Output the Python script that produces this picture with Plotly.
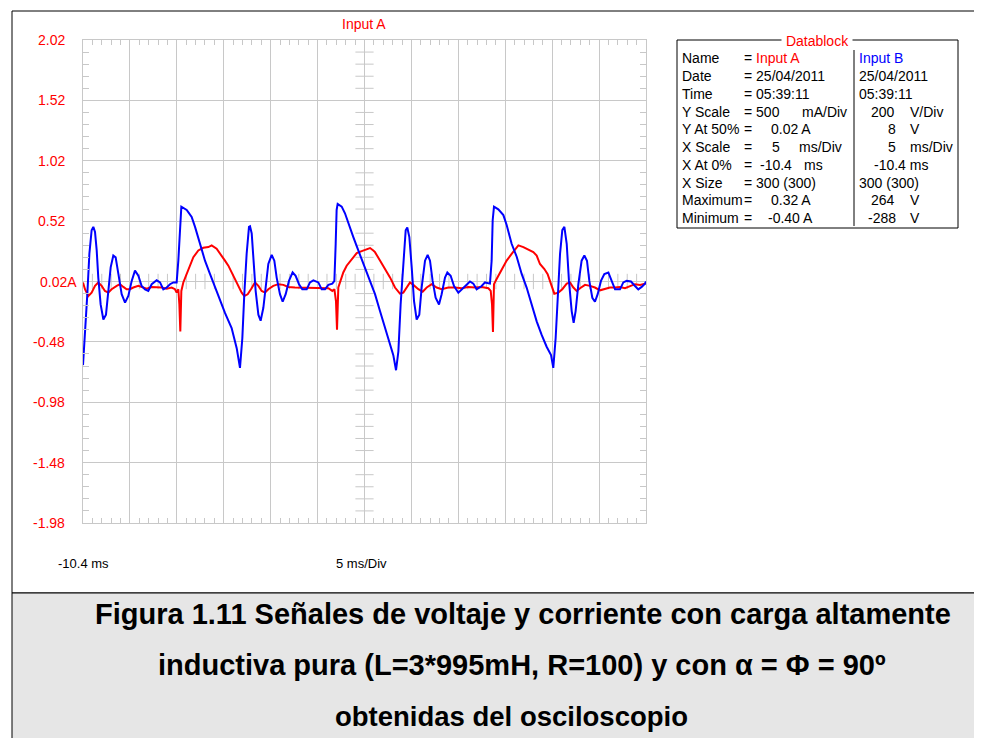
import plotly.graph_objects as go

# Input B (voltage): time in ms, value in V
blue_t = [-10.40, -10.19, -9.94, -9.72, -9.48, -9.30, -9.12, -8.94, -8.77, -8.52,
          -8.23, -7.95, -7.70, -7.45, -7.17, -6.92, -6.63, -6.28, -5.92, -5.57,
          -5.21, -4.86, -4.50, -4.15, -3.79, -3.44, -3.08, -2.55, -2.19, -1.84,
          -1.48, -1.13, -0.77, -0.42, -0.24, -0.06, 0.08, 0.65, 1.18, 1.54,
          2.07, 2.60, 3.13, 3.67, 4.20, 4.73, 5.44, 5.98, 6.33, 6.58,
          6.79, 7.04, 7.29, 7.40, 7.58, 7.79, 8.00, 8.29, 8.53, 8.82,
          9.07, 9.35, 9.71, 9.99, 10.24, 10.59, 10.88, 11.20, 11.55, 11.94,
          12.26, 12.62, 12.97, 13.44, 13.79, 14.15, 14.68, 15.04, 15.39, 15.75,
          16.17, 16.39, 16.53, 16.63, 16.74, 17.17, 17.52, 17.88, 18.41, 18.94,
          19.48, 20.01, 20.19, 20.72, 21.25, 21.78, 22.32, 22.67, 22.96, 23.21,
          23.45, 23.74, 23.99, 24.16, 24.38, 24.63, 24.88, 25.16, 25.44, 25.69,
          26.05, 26.33, 26.58, 26.86, 27.18, 27.54, 27.82, 28.18, 28.43, 28.78,
          29.14, 29.60, 29.95, 30.49, 30.84, 31.20, 31.55, 32.09, 32.44, 32.97,
          33.15, 33.26, 33.40, 33.86, 34.40, 34.75, 35.28, 35.82, 36.35, 36.88,
          37.42, 37.95, 38.48, 39.01, 39.48, 39.72, 39.97, 40.19, 40.44, 40.68,
          40.90, 41.15, 41.39, 41.68, 41.89, 42.10, 42.39, 42.74, 43.03, 43.31,
          43.56, 43.88, 44.16, 44.45, 44.80, 45.16, 45.59, 45.94, 46.30, 46.83,
          47.18, 47.54, 48.00, 48.43, 48.78, 49.14, 49.49, 49.60]
blue_v = [-269, -169, -34, 100, 178, 189, 172, 111, 21, -68,
          -118, -102, -23, 55, 94, 88, 33, -34, -62, -40,
          10, 44, 27, -7, -18, -23, -1, 12, 5, -18,
          -12, -1, 5, 5, 77, 189, 256, 245, 222, 189,
          133, 77, 33, -12, -57, -96, -146, -213, -278, -180,
          -34, 100, 189, 191, 167, 77, -23, -102, -122, -79,
          -1, 66, 96, 77, 21, -34, -59, -34, 10, 38,
          27, -1, -18, -18, 5, 12, 5, -18, -18, -3,
          1, 10, 133, 245, 265, 256, 234, 200, 155, 111,
          66, 21, 8, -34, -90, -146, -202, -236, -286, -224,
          -68, 77, 178, 187, 155, 55, -57, -118, -102, -12,
          77, 96, 77, 10, -46, -68, -34, 21, 38, 27,
          -7, -29, -18, -1, 8, 1, -18, -7, 5, 1,
          77, 211, 256, 247, 228, 195, 133, 90, 33, -12,
          -68, -124, -169, -208, -236, -278, -180, -46, 100, 178,
          189, 133, 10, -90, -129, -90, -1, 77, 94, 77,
          10, -46, -59, -34, 10, 33, 38, 10, -18, -18,
          5, 10, 8, -7, -18, -10, 1, 8]

# Input A (current): time in ms, value in A
red_t = [-10.40, -10.19, -9.83, -9.48, -9.12, -8.77, -8.41, -8.06, -7.70, -7.35,
         -6.81, -6.46, -6.10, -5.75, -5.39, -5.04, -4.50, -4.15, -3.62, -3.08,
         -2.55, -2.02, -1.48, -0.95, -0.60, -0.42, -0.24, -0.13, -0.03, 0.08,
         0.29, 0.65, 1.00, 1.36, 1.89, 2.42, 2.96, 3.31, 3.84, 4.38,
         4.73, 5.09, 5.44, 5.80, 6.15, 6.51, 6.79, 7.15, 7.50, 7.93,
         8.29, 8.64, 9.00, 9.35, 9.88, 10.42, 10.95, 11.48, 12.19, 12.90,
         13.61, 14.32, 15.04, 15.75, 16.17, 16.39, 16.56, 16.67, 16.81, 16.99,
         17.34, 17.70, 18.23, 18.77, 19.30, 19.83, 20.19, 20.54, 20.72, 21.25,
         21.78, 22.32, 22.85, 23.38, 23.74, 24.09, 24.45, 24.80, 25.34, 25.80,
         26.23, 26.76, 27.29, 27.82, 28.53, 29.24, 29.95, 30.66, 31.38, 32.09,
         32.80, 33.05, 33.19, 33.29, 33.40, 33.68, 34.22, 34.75, 35.28, 35.82,
         36.00, 36.53, 37.06, 37.59, 37.95, 38.30, 38.77, 39.12, 39.48, 39.83,
         40.26, 40.68, 41.15, 41.50, 41.86, 42.21, 42.57, 43.10, 43.63, 44.16,
         44.70, 45.23, 45.76, 46.30, 46.83, 47.36, 47.89, 48.43, 48.96, 49.60]
red_a = [0.012, -0.044, -0.100, -0.072, -0.016, 0.012, -0.016, -0.058, -0.072, -0.044,
         -0.016, -0.002, -0.025, -0.044, -0.044, -0.030, -0.016, -0.025, -0.039, -0.025,
         -0.025, -0.030, -0.039, -0.030, -0.044, -0.072, -0.044, -0.170, -0.393, -0.058,
         0.012, 0.081, 0.151, 0.221, 0.277, 0.299, 0.305, 0.319, 0.291, 0.235,
         0.193, 0.151, 0.095, 0.040, -0.016, -0.072, -0.100, -0.086, -0.044, 0.012,
         -0.016, -0.058, -0.072, -0.044, -0.016, -0.002, -0.008, -0.025, -0.030, -0.030,
         -0.036, -0.030, -0.036, -0.036, -0.058, -0.044, -0.142, -0.379, -0.030, 0.020,
         0.095, 0.151, 0.207, 0.255, 0.271, 0.283, 0.297, 0.277, 0.263, 0.193,
         0.123, 0.054, -0.030, -0.081, -0.072, -0.030, 0.012, -0.008, -0.044, -0.064,
         -0.030, -0.002, -0.030, -0.044, -0.030, -0.030, -0.036, -0.025, -0.030, -0.025,
         -0.036, -0.058, -0.170, -0.399, -0.002, 0.040, 0.123, 0.193, 0.249, 0.305,
         0.319, 0.305, 0.283, 0.263, 0.235, 0.165, 0.123, 0.081, -0.002, -0.081,
         -0.072, -0.044, 0.003, 0.012, -0.030, -0.058, -0.036, -0.008, -0.016, -0.030,
         -0.053, -0.044, -0.030, -0.030, -0.025, -0.036, -0.016, -0.002, -0.008, 0.003]

# scope settings
x_start, ms_per_div, x_divs = -10.4, 5, 12
a_center, a_per_div = 0.02, 0.5
v_center, v_per_div = 8, 200
y_divs = 8
trigger_time = 0.0
y_labels = ["2.02", "1.52", "1.02", "0.52", "0.02A", "-0.48", "-0.98", "-1.48", "-1.98"]

datablock = [
    [(681, "Name", "black"), (743, "= <span style='color:#ff0000'>Input A</span>", "black"), (858, "Input B", "#0000ff")],
    [(681, "Date", "black"), (743, "= 25/04/2011", "black"), (858, "25/04/2011", "black")],
    [(681, "Time", "black"), (743, "= 05:39:11", "black"), (858, "05:39:11", "black")],
    [(681, "Y Scale", "black"), (743, "= 500", "black"), (801, "mA/Div", "black"), (870, "200", "black"), (909, "V/Div", "black")],
    [(681, "Y At 50%", "black"), (743, "=", "black"), (770, "0.02 A", "black"), (887, "8", "black"), (909, "V", "black")],
    [(681, "X Scale", "black"), (743, "=", "black"), (771, "5", "black"), (798, "ms/Div", "black"), (887, "5", "black"), (909, "ms/Div", "black")],
    [(681, "X At 0%", "black"), (743, "=", "black"), (759, "-10.4", "black"), (803, "ms", "black"), (873, "-10.4 ms", "black")],
    [(681, "X Size", "black"), (743, "= 300 (300)", "black"), (858, "300 (300)", "black")],
    [(681, "Maximum", "black"), (743, "=", "black"), (770, "0.32 A", "black"), (870, "264", "black"), (909, "V", "black")],
    [(681, "Minimum", "black"), (743, "=", "black"), (767, "-0.40 A", "black"), (867, "-288", "black"), (909, "V", "black")],
]

caption = [
    "Figura 1.11 Señales de voltaje y corriente con carga altamente",
    "inductiva pura (L=3*995mH, R=100) y con α = Φ = 90º",
    "obtenidas del osciloscopio",
]

# the page body has an 8px margin, so the figure is drawn 8px in from the window edge
OFF = 8
W, H = 982 - OFF, 738 - OFF
L, R, T, B = 83, 646, 40, 523   # plot area in window pixels
FONT = "Arial, Liberation Sans, sans-serif"
GRID = "#c8c8c8"


def px(x):
    return (x - L) / (R - L)


def py(y):
    return (B - y) / (B - T)


x_end = x_start + ms_per_div * x_divs
a_lo = a_center - a_per_div * y_divs / 2
a_hi = a_center + a_per_div * y_divs / 2
v_lo = v_center - v_per_div * y_divs / 2
v_hi = v_center + v_per_div * y_divs / 2
x_mid = x_start + ms_per_div * x_divs / 2

fig = go.Figure()

# graticule ticks on the centre cross
cx = [x_start + k * ms_per_div / 5 for k in range(1, x_divs * 5) if k % 5]
cy = [a_lo + k * a_per_div / 5 for k in range(1, y_divs * 5) if k % 5]
fig.add_trace(go.Scatter(
    x=cx, y=[a_center] * len(cx), mode='markers', hoverinfo='skip',
    marker=dict(symbol='line-ns', size=11, line=dict(width=1, color=GRID))
))
fig.add_trace(go.Scatter(
    x=[x_mid] * len(cy), y=cy, mode='markers', hoverinfo='skip',
    marker=dict(symbol='line-ew', size=13, line=dict(width=1, color=GRID))
))

fig.add_trace(go.Scatter(
    x=blue_t, y=blue_v, mode='lines', name='Input B',
    line=dict(color='#0000ff', width=2), yaxis='y2'
))
fig.add_trace(go.Scatter(
    x=red_t, y=red_a, mode='lines', name='Input A',
    line=dict(color='#ff0000', width=2)
))

# trigger marker
fig.add_trace(go.Scatter(
    x=[trigger_time], y=[a_lo - 0.03], mode='markers', cliponaxis=False,
    marker=dict(symbol='triangle-up', size=6, color='black'), hoverinfo='skip'
))

axis_style = dict(showgrid=True, gridcolor=GRID, gridwidth=1, zeroline=False,
                  showline=True, linecolor=GRID, linewidth=1, mirror='ticks',
                  ticks='', showticklabels=False, fixedrange=True)

fig.update_layout(
    width=W, height=H,
    margin=dict(l=L - OFF, r=W - (R - OFF), t=T - OFF, b=H - (B - OFF)),
    paper_bgcolor='white', plot_bgcolor='white',
    showlegend=False,
    font=dict(family=FONT, size=14, color='black'),
    xaxis=dict(range=[x_start, x_end], tick0=x_start, dtick=ms_per_div,
               minor=dict(ticks='inside', tick0=x_start, dtick=ms_per_div / 5,
                          ticklen=5, tickcolor=GRID, tickwidth=1, showgrid=False),
               **axis_style),
    yaxis=dict(range=[a_lo, a_hi], tick0=a_lo, dtick=a_per_div,
               minor=dict(ticks='inside', tick0=a_lo, dtick=a_per_div / 5,
                          ticklen=6, tickcolor=GRID, tickwidth=1, showgrid=False),
               **axis_style),
    yaxis2=dict(range=[v_lo, v_hi], overlaying='y', visible=False, fixedrange=True),
)

shapes = [
    # outer frame
    dict(type='rect', xref='paper', yref='paper', x0=px(12), x1=px(976), y0=py(593), y1=py(11),
         line=dict(color='black', width=1), layer='below'),
    # caption box
    dict(type='rect', xref='paper', yref='paper', x0=px(12), x1=px(976), y0=py(745), y1=py(593),
         line=dict(color='black', width=1), fillcolor='#e6e6e6', layer='below'),
    # datablock
    dict(type='rect', xref='paper', yref='paper', x0=px(677), x1=px(958), y0=py(228), y1=py(40),
         line=dict(color='black', width=1)),
    dict(type='line', xref='paper', yref='paper', x0=px(854), x1=px(854), y0=py(226), y1=py(50),
         line=dict(color='black', width=1)),
]

ann = []
# y labels
for i, lab in enumerate(y_labels):
    val = a_hi - i * a_per_div
    ann.append(dict(xref='paper', yref='y', x=px(79 if lab.endswith('A') else 67), y=val,
                    text=lab, showarrow=False, xanchor='right', yanchor='middle',
                    font=dict(color='#ff0000', size=14)))
ann.append(dict(xref='paper', yref='paper', x=px(364), y=py(24), text='Input A', showarrow=False,
                xanchor='center', yanchor='middle', font=dict(color='#ff0000', size=14)))
ann.append(dict(xref='paper', yref='paper', x=px(56), y=py(563), text='-10.4 ms', showarrow=False,
                xanchor='left', yanchor='middle', font=dict(size=13)))
ann.append(dict(xref='paper', yref='paper', x=px(334), y=py(563), text='5 ms/Div', showarrow=False,
                xanchor='left', yanchor='middle', font=dict(size=13)))
ann.append(dict(xref='paper', yref='paper', x=px(817), y=py(41), text='&nbsp;Datablock&nbsp;',
                showarrow=False, xanchor='center', yanchor='middle', bgcolor='white',
                borderpad=0, font=dict(color='#ff0000', size=14)))

for i, row in enumerate(datablock):
    yy = 58.3 + 17.77 * i
    for xx, txt, col in row:
        ann.append(dict(xref='paper', yref='paper', x=px(xx - 1), y=py(yy), text=txt,
                        showarrow=False, xanchor='left', yanchor='middle',
                        font=dict(color=col, size=14)))

cap_x = [523, 522, 511]
cap_size = [29, 29, 27.5]
for i, line in enumerate(caption):
    ann.append(dict(xref='paper', yref='paper', x=px(cap_x[i]), y=py(614 + 51 * i),
                    text='<b>' + line + '</b>', showarrow=False, xanchor='center',
                    yanchor='middle', font=dict(size=cap_size[i], color='black')))

fig.update_layout(shapes=shapes, annotations=ann)

fig.write_html("out.html")
